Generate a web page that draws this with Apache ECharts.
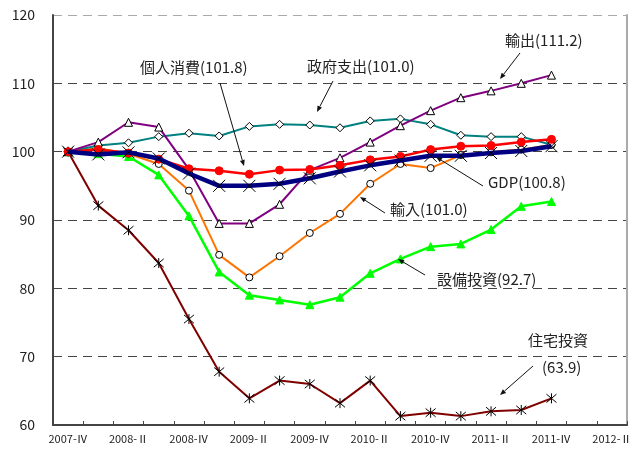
<!DOCTYPE html>
<html>
<head>
<meta charset="utf-8">
<script src="https://cdn.jsdelivr.net/npm/echarts@6/dist/echarts.min.js"></script>
<style>
  html, body { margin: 0; padding: 0; background: #fff; }
  #chart { width: 640px; height: 451px; }
</style>
</head>
<body>
<div id="chart"></div>
<script>
// 四半期（2007-IV を 100 とした指数）
const quarters = [
  '2007-Ⅳ', '2008-Ⅰ', '2008-Ⅱ', '2008-Ⅲ', '2008-Ⅳ',
  '2009-Ⅰ', '2009-Ⅱ', '2009-Ⅲ', '2009-Ⅳ',
  '2010-Ⅰ', '2010-Ⅱ', '2010-Ⅲ', '2010-Ⅳ',
  '2011-Ⅰ', '2011-Ⅱ', '2011-Ⅲ', '2011-Ⅳ',
  '2012-Ⅰ', '2012-Ⅱ'
]
const yTicks = [60, 70, 80, 90, 100, 110, 120]

const exportData = [100, 101.4, 104.3, 103.6, 97.4, 89.5, 89.5, 92.3, 97.3, 99.1, 101.4, 103.8, 106.0, 107.9, 108.9, 110.0, 111.2]
const govData = [100, 100.9, 101.3, 102.2, 102.7, 102.3, 103.7, 104.0, 103.9, 103.5, 104.5, 104.8, 104.0, 102.4, 102.2, 102.2, 101.0]
const consumeData = [100, 100.3, 99.8, 98.9, 97.5, 97.2, 96.7, 97.3, 97.4, 98.0, 98.8, 99.3, 100.3, 100.8, 100.9, 101.4, 101.8]
const gdpData = [100, 99.6, 99.9, 99.0, 96.8, 95.0, 95.0, 95.3, 96.1, 97.1, 98.0, 98.7, 99.4, 99.4, 99.8, 100.1, 100.8]
const importData = [100, 100.5, 99.7, 98.2, 94.3, 84.9, 81.6, 84.7, 88.1, 90.9, 95.3, 98.2, 97.6, 99.5, 99.9, 100.3, 101.0]
const capexData = [100, 99.7, 99.3, 96.6, 90.6, 82.4, 79.0, 78.3, 77.6, 78.7, 82.2, 84.3, 86.1, 86.5, 88.6, 92.0, 92.7]
const housingData = [100, 92.1, 88.5, 83.7, 75.5, 67.8, 63.9, 66.5, 66.0, 63.2, 66.5, 61.3, 61.8, 61.3, 62.0, 62.2, 63.9]

const FONT = '"Noto Sans CJK JP", "Noto Sans", sans-serif'

// 線で描く記号（×・米印）
const crossPath = 'path://M0 0 L10 10 M10 0 L0 10'
const starPath = 'path://M0 0 L10 10 M10 0 L0 10 M5 -1 L5 11'

function lineSeries(name, data, color, width, symbol, size, fill, z) {
  return {
    name: name,
    type: 'line',
    data: data,
    z: z,
    symbol: symbol,
    symbolSize: size,
    lineStyle: { color: color, width: width },
    itemStyle: { color: fill, borderColor: fill === color ? color : '#000', borderWidth: 1 },
    emphasis: { disabled: true },
    animation: false
  }
}

// 注記の矢印
function arrow(x1, y1, x2, y2) {
  const a = Math.atan2(y2 - y1, x2 - x1)
  const L = 6, W = 2.5
  const bx = x2 - L * Math.cos(a), by = y2 - L * Math.sin(a)
  return [
    { type: 'line', shape: { x1: x1, y1: y1, x2: bx, y2: by }, style: { stroke: '#111', lineWidth: 1 }, z: 100 },
    { type: 'polygon', shape: { points: [[x2, y2], [bx + W * Math.sin(a), by - W * Math.cos(a)], [bx - W * Math.sin(a), by + W * Math.cos(a)]] }, style: { fill: '#111' }, z: 100 }
  ]
}
function note(text, x, y) {
  return { type: 'text', left: x, top: y - 10, style: { text: text, font: '15px ' + FONT, fill: '#222' }, z: 100 }
}

const chart = echarts.init(document.getElementById('chart'))
chart.setOption({
  backgroundColor: '#fff',
  animation: false,
  grid: { left: 53, right: 13, top: 15, bottom: 26, containLabel: false },
  xAxis: {
    type: 'category',
    data: quarters,
    boundaryGap: true,
    axisLine: { lineStyle: { color: '#444', width: 2 } },
    axisTick: { show: true, inside: true, length: 4, interval: 0, lineStyle: { color: '#444' } },
    axisLabel: { interval: 1, color: '#222', fontSize: 11, fontFamily: FONT, margin: 8 },
    splitLine: { show: false }
  },
  yAxis: [{
    type: 'value',
    min: yTicks[0],
    max: yTicks[yTicks.length - 1],
    interval: 10,
    axisLine: { show: true, lineStyle: { color: '#444', width: 2 } },
    axisTick: { show: false },
    axisLabel: { color: '#222', fontSize: 14, fontFamily: FONT, margin: 18 },
    splitLine: {
      show: true,
      lineStyle: { color: ['#444', '#444', '#444', '#444', '#444', '#444', '#aaa'], type: [9, 6], width: 1 }
    }
  }, {
    type: 'value',
    position: 'right',
    min: yTicks[0],
    max: yTicks[yTicks.length - 1],
    interval: 10,
    axisLine: { show: true, lineStyle: { color: '#aaa', width: 2 } },
    axisTick: { show: false },
    axisLabel: { show: false },
    splitLine: { show: false }
  }],
  series: [
    lineSeries('住宅投資', housingData, '#800000', 2, starPath, 10, 'transparent', 2),
    lineSeries('設備投資', capexData, '#00ff00', 2.5, 'triangle', 8, '#00ff00', 3),
    lineSeries('輸入', importData, '#ff7400', 2, 'circle', 7, '#fff', 4),
    lineSeries('政府支出', govData, '#008080', 2, 'diamond', 8, '#fff', 5),
    lineSeries('輸出', exportData, '#800080', 2, 'triangle', 8, '#fff', 6),
    lineSeries('個人消費', consumeData, '#ff0000', 2.5, 'circle', 8, '#ff0000', 7),
    lineSeries('GDP', gdpData, '#000080', 4.5, crossPath, 12, 'transparent', 8)
  ],
  graphic: [
    note('個人消費(101.8)', 140, 70),
    ...arrow(220, 83, 244, 166),
    note('政府支出(101.0)', 307, 69),
    ...arrow(333, 81, 317, 112),
    note('輸出(111.2)', 505, 43),
    ...arrow(520, 53, 500, 79),
    note('GDP(100.8)', 488, 185),
    ...arrow(483, 186, 436, 157),
    note('輸入(101.0)', 390, 212),
    ...arrow(385, 213, 360, 197),
    note('設備投資(92.7)', 437, 282),
    ...arrow(425, 275, 398, 259),
    note('住宅投資', 528, 343),
    note('(63.9)', 542, 370),
    ...arrow(533, 366, 500, 395)
  ]
})
</script>
</body>
</html>
